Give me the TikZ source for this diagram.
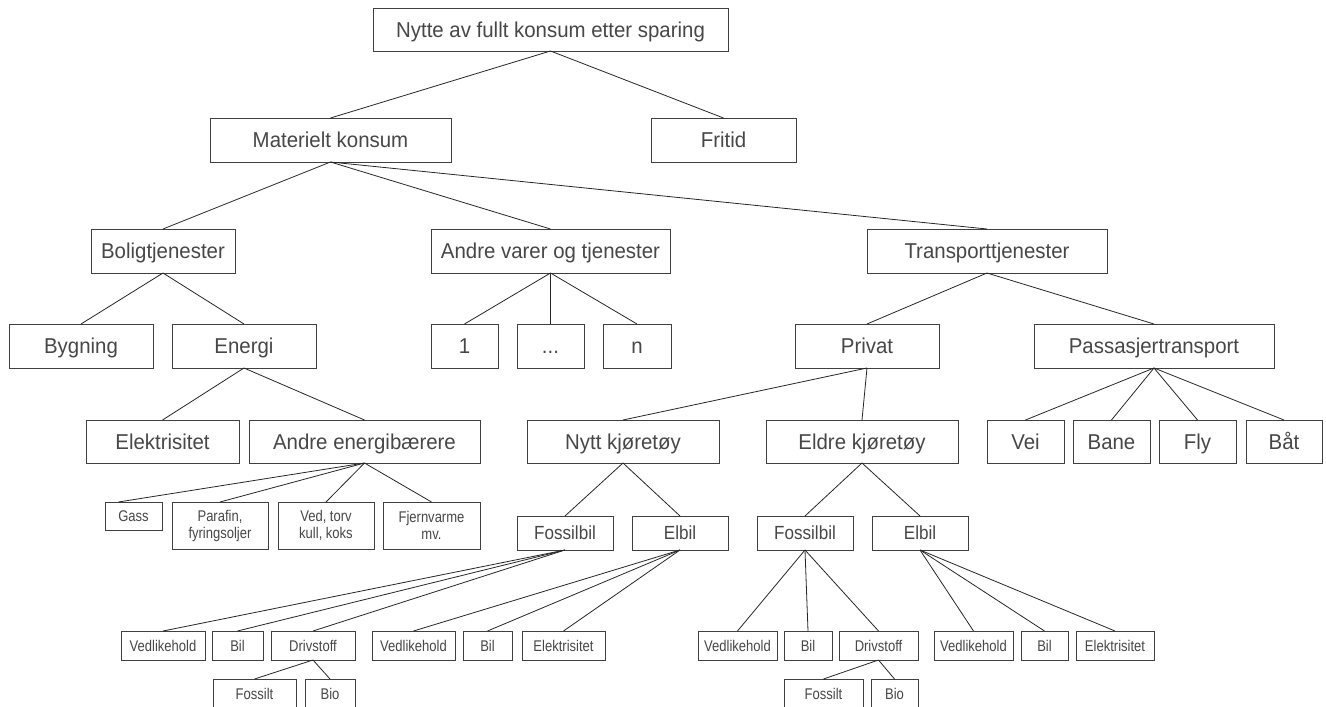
\documentclass[tikz,border=0pt]{standalone}
\usepackage{fontspec}
\setmainfont{Liberation Sans}
\newfontfamily\lvfont{Liberation Sans}[FakeStretch=0.95]
\newfontfamily\mdfont{Liberation Sans}[FakeStretch=0.9]
\newfontfamily\smfont{Liberation Sans}[FakeStretch=0.84]

\tikzset{
  box/.style={draw=black!75, line width=0.9pt, fill=white, inner sep=0pt,
              outer sep=0pt, text=black!72, align=center},
  lvl/.style={box, font=\lvfont\fontsize{21.5}{24}\selectfont, text height=15.4pt, text depth=0pt},
  mid/.style={box, font=\mdfont\fontsize{19}{22}\selectfont, text height=13.6pt, text depth=0pt},
  sml/.style={box, font=\smfont\fontsize{15.5}{17}\selectfont, text height=11.1pt, text depth=0pt},
  smltwo/.style={box, font=\smfont\fontsize{15.5}{17}\selectfont},
  link/.style={draw=black!85, line width=0.8pt},
}

% box from its left, top, right, bottom edges (in px, y downwards)
\newcommand\placebox[7]{%
  \pgfmathsetmacro\pbw{#4-#2}\pgfmathsetmacro\pbh{#5-#3}%
  \pgfmathsetmacro\pbx{(#2+#4)/2}\pgfmathsetmacro\pby{(#3+#5)/2}%
  \node[#6, minimum width=\pbw pt, minimum height=\pbh pt] (#1) at (\pbx,\pby) {#7};}

\begin{document}
\begin{tikzpicture}[x=1pt, y=-1pt]
\path[use as bounding box] (0,0) rectangle (1326,707);
\clip (0,0) rectangle (1326,707);

% level 1 and 2
\placebox{top}{373}{8}{728}{51}{lvl}{Nytte av fullt konsum etter sparing}
\placebox{mat}{210}{118}{451}{162}{lvl}{Materielt konsum}
\placebox{fri}{651}{118}{796}{162}{lvl}{Fritid}

% level 3
\placebox{bol}{91}{229}{235}{273}{lvl}{Boligtjenester}
\placebox{andre}{431}{229}{670}{273}{lvl}{Andre varer og tjenester}
\placebox{trans}{867}{229}{1107}{273}{lvl}{Transporttjenester}

% level 4
\placebox{byg}{9}{324}{153}{368}{lvl}{Bygning}
\placebox{ene}{172}{324}{316}{368}{lvl}{Energi}
\placebox{n1}{431}{324}{498}{368}{lvl}{1}
\placebox{ndots}{517}{324}{584}{368}{lvl}{...}
\placebox{nn}{603}{324}{671}{368}{lvl}{n}
\placebox{priv}{795}{324}{939}{368}{lvl}{Privat}
\placebox{pass}{1034}{324}{1274}{368}{lvl}{Passasjertransport}

% level 5
\placebox{elek}{86}{420}{239}{463}{lvl}{Elektrisitet}
\placebox{aeb}{249}{420}{480}{463}{lvl}{Andre energibærere}
\placebox{nytt}{527}{420}{719}{463}{lvl}{Nytt kjøretøy}
\placebox{eldre}{766}{420}{958}{463}{lvl}{Eldre kjøretøy}
\placebox{vei}{987}{420}{1064}{463}{lvl}{Vei}
\placebox{bane}{1073}{420}{1150}{463}{lvl}{Bane}
\placebox{fly}{1159}{420}{1236}{463}{lvl}{Fly}
\placebox{bat}{1246}{420}{1322}{463}{lvl}{Båt}

% energy carriers
\placebox{gass}{105}{502}{162}{530}{sml}{Gass}
\placebox{paraf}{172}{502}{268}{549}{smltwo}{Parafin,\\fyringsoljer}
\placebox{ved}{278}{502}{374}{549}{smltwo}{Ved, torv\\kull, koks}
\placebox{fjern}{383}{502}{480}{549}{smltwo}{Fjernvarme\\mv.}

% car types
\placebox{fb1}{517}{516}{613}{550}{mid}{Fossilbil}
\placebox{eb1}{632}{516}{728}{550}{mid}{Elbil}
\placebox{fb2}{757}{516}{853}{550}{mid}{Fossilbil}
\placebox{eb2}{872}{516}{968}{550}{mid}{Elbil}

% cost components
\placebox{v1}{121}{631}{205}{660}{sml}{Vedlikehold}
\placebox{b1}{212}{631}{263}{660}{sml}{Bil}
\placebox{d1}{271}{631}{355}{660}{sml}{Drivstoff}
\placebox{v2}{372}{631}{455}{660}{sml}{Vedlikehold}
\placebox{b2}{463}{631}{512}{660}{sml}{Bil}
\placebox{e2}{522}{631}{605}{660}{sml}{Elektrisitet}
\placebox{v3}{698}{631}{777}{660}{sml}{Vedlikehold}
\placebox{b3}{784}{631}{832}{660}{sml}{Bil}
\placebox{d3}{839}{631}{918}{660}{sml}{Drivstoff}
\placebox{v4}{934}{631}{1013}{660}{sml}{Vedlikehold}
\placebox{b4}{1021}{631}{1068}{660}{sml}{Bil}
\placebox{e4}{1076}{631}{1154}{660}{sml}{Elektrisitet}

% fuel types
\placebox{f1}{213}{679}{296}{708}{sml}{Fossilt}
\placebox{bio1}{305}{679}{355}{708}{sml}{Bio}
\placebox{f3}{784}{679}{863}{708}{sml}{Fossilt}
\placebox{bio3}{871}{679}{918}{708}{sml}{Bio}

% connectors
\draw[link] (top.south) -- (mat.north);
\draw[link] (top.south) -- (fri.north);
\draw[link] (mat.south) -- (bol.north);
\draw[link] (mat.south) -- (andre.north);
\draw[link] (mat.south) -- (trans.north);
\draw[link] (bol.south) -- (byg.north);
\draw[link] (bol.south) -- (ene.north);
\draw[link] (andre.south) -- (n1.north);
\draw[link] (andre.south) -- (ndots.north);
\draw[link] (andre.south) -- (nn.north);
\draw[link] (trans.south) -- (priv.north);
\draw[link] (trans.south) -- (pass.north);
\draw[link] (ene.south) -- (elek.north);
\draw[link] (ene.south) -- (aeb.north);
\draw[link] (aeb.south) -- ([xshift=-15pt]gass.north);
\draw[link] (aeb.south) -- (paraf.north);
\draw[link] (aeb.south) -- (ved.north);
\draw[link] (aeb.south) -- (fjern.north);
\draw[link] (priv.south) -- (nytt.north);
\draw[link] (priv.south) -- (eldre.north);
\draw[link] (pass.south) -- (vei.north);
\draw[link] (pass.south) -- (bane.north);
\draw[link] (pass.south) -- (fly.north);
\draw[link] (pass.south) -- (bat.north);
\draw[link] (nytt.south) -- (fb1.north);
\draw[link] (nytt.south) -- (eb1.north);
\draw[link] (eldre.south) -- (fb2.north);
\draw[link] (eldre.south) -- (eb2.north);
\draw[link] (fb1.south) -- (v1.north);
\draw[link] (fb1.south) -- (b1.north);
\draw[link] (fb1.south) -- (d1.north);
\draw[link] (eb1.south) -- (v2.north);
\draw[link] (eb1.south) -- (b2.north);
\draw[link] (eb1.south) -- (e2.north);
\draw[link] (fb2.south) -- (v3.north);
\draw[link] (fb2.south) -- (b3.north);
\draw[link] (fb2.south) -- (d3.north);
\draw[link] (eb2.south) -- (v4.north);
\draw[link] (eb2.south) -- (b4.north);
\draw[link] (eb2.south) -- (e4.north);
\draw[link] (d1.south) -- (f1.north);
\draw[link] (d1.south) -- (bio1.north);
\draw[link] (d3.south) -- (f3.north);
\draw[link] (d3.south) -- (bio3.north);
\end{tikzpicture}
\end{document}
